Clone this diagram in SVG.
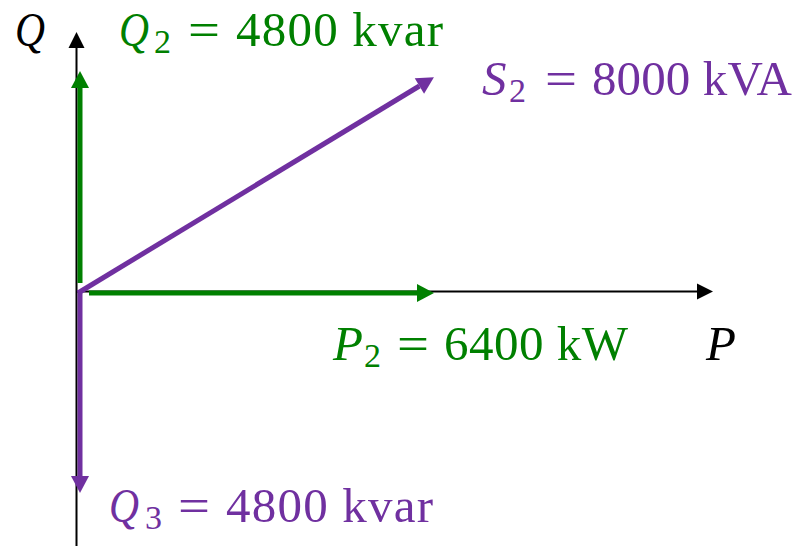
<svg xmlns="http://www.w3.org/2000/svg" width="798" height="546" viewBox="0 0 798 546">
  <style>
    text { font-family: "Liberation Serif", "DejaVu Serif", serif; font-size: 49px; }
    .it { font-style: italic; }
    .sub { font-size: 34px; }
    .g { fill: #008000; }
    .p { fill: #7030A0; }
    .k { fill: #000000; }
    .axis { stroke: #000; stroke-width: 2; fill: none; }
    .vg { stroke: #008000; stroke-width: 5; fill: none; }
    .vp { stroke: #7030A0; stroke-width: 5; fill: none; }
  </style>
  <defs>
    <marker id="hk" markerUnits="userSpaceOnUse" orient="auto" markerWidth="20" markerHeight="20" refX="0" refY="8" viewBox="0 0 20 20" overflow="visible">
      <path d="M0,0 L16,8 L0,16 z" fill="#000"/>
    </marker>
    <marker id="hg" markerUnits="userSpaceOnUse" orient="auto" markerWidth="20" markerHeight="20" refX="0" refY="9" viewBox="0 0 20 20" overflow="visible">
      <path d="M0,0 L17,9 L0,18 z" fill="#008000"/>
    </marker>
    <marker id="hp" markerUnits="userSpaceOnUse" orient="auto" markerWidth="20" markerHeight="20" refX="0" refY="9" viewBox="0 0 20 20" overflow="visible">
      <path d="M0,0 L17,9 L0,18 z" fill="#7030A0"/>
    </marker>
  </defs>

  <g id="axes">
    <line class="axis" x1="76.5" y1="546" x2="76.5" y2="48" marker-end="url(#hk)"/>
    <line class="axis" x1="76" y1="291.5" x2="697" y2="291.5" marker-end="url(#hk)"/>
  </g>

  <g id="connectors">
    <line id="vecQ2" class="vg" x1="80" y1="283" x2="80" y2="88" marker-end="url(#hg)"/>
    <line id="vecP2" class="vg" x1="89" y1="293" x2="417" y2="293" marker-end="url(#hg)"/>
    <line id="vecQ3" class="vp" x1="80" y1="290" x2="80" y2="476" marker-end="url(#hp)"/>
    <line id="vecS2" class="vp" x1="78" y1="293" x2="419.4" y2="86" marker-end="url(#hp)"/>
  </g>

  <g id="label-Q-axis">
    <text class="it k" x="15" y="46" textLength="30" lengthAdjust="spacingAndGlyphs">Q</text>
  </g>
  <g id="label-P-axis">
    <text class="it k" x="706" y="360">P</text>
  </g>
  <g id="label-Q2">
    <text class="it g" x="119" y="46" textLength="30" lengthAdjust="spacingAndGlyphs">Q</text>
    <text class="sub g" x="154" y="53">2</text>
    <text class="g" x="188" y="46" textLength="32" lengthAdjust="spacingAndGlyphs">=</text>
    <text class="g" x="236" y="46" textLength="207" lengthAdjust="spacing">4800 kvar</text>
  </g>
  <g id="label-S2">
    <text class="it p" x="482" y="95">S</text>
    <text class="sub p" x="509" y="102">2</text>
    <text class="p" x="545" y="95" textLength="32" lengthAdjust="spacingAndGlyphs">=</text>
    <text class="p" x="592" y="95" textLength="200" lengthAdjust="spacing">8000 kVA</text>
  </g>
  <g id="label-P2">
    <text class="it g" x="333" y="360">P</text>
    <text class="sub g" x="364" y="367">2</text>
    <text class="g" x="397" y="360" textLength="32" lengthAdjust="spacingAndGlyphs">=</text>
    <text class="g" x="444" y="360" textLength="184" lengthAdjust="spacing">6400 kW</text>
  </g>
  <g id="label-Q3">
    <text class="it p" x="109" y="522" textLength="30" lengthAdjust="spacingAndGlyphs">Q</text>
    <text class="sub p" x="145" y="529">3</text>
    <text class="p" x="178" y="522" textLength="32" lengthAdjust="spacingAndGlyphs">=</text>
    <text class="p" x="226" y="522" textLength="207" lengthAdjust="spacing">4800 kvar</text>
  </g>
</svg>
